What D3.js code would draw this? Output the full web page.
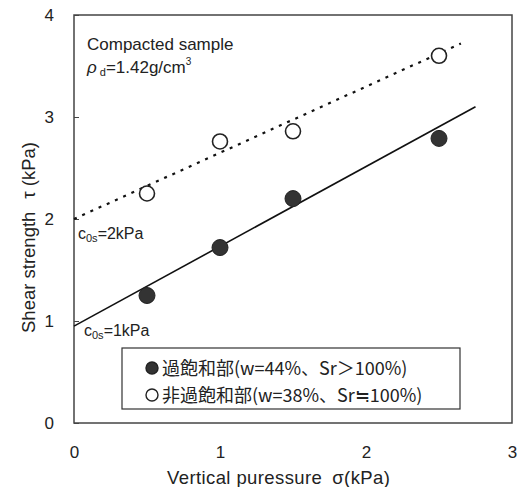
<!DOCTYPE html>
<html>
<head>
<meta charset="utf-8">
<script src="https://cdn.jsdelivr.net/npm/d3@7"></script>
<style>
body { margin: 0; background: #fff; }
text { font-family: "Liberation Sans", Arial, "Noto Sans CJK JP", sans-serif; fill: #222; }
</style>
</head>
<body>
<svg width="529" height="487"></svg>
<script>
// vertical pressure (kPa)
var sigma = [0.5, 1.0, 1.5, 2.5];
// shear strength (kPa)
var tauOver = [1.25, 1.72, 2.2, 2.79];
var tauNonOver = [2.25, 2.76, 2.86, 3.6];
// fitted lines [x, y]
var lineOver = [[0, 0.95], [2.75, 3.1]];
var lineNonOver = [[0, 2.0], [2.65, 3.72]];
var xTicks = [0, 1, 2, 3];
var yTicks = [0, 1, 2, 3, 4];
var legendLabels = ["過飽和部(w=44%、Sr＞100%)", "非過飽和部(w=38%、Sr≒100%)"];

var margins = {top: 15, right: 17, bottom: 64, left: 74};
var screen = {width: 529, height: 487};
var width = screen.width - margins.left - margins.right;
var height = screen.height - margins.top - margins.bottom;

var svg = d3.select("svg");
var g = svg.append("g")
    .attr("transform", "translate(" + margins.left + "," + margins.top + ")");

var xScale = d3.scaleLinear().domain([0, 3]).range([0, width]);
var yScale = d3.scaleLinear().domain([0, 4]).range([height, 0]);

// frame
g.append("rect")
    .attr("width", width).attr("height", height)
    .attr("fill", "none").attr("stroke", "#444").attr("stroke-width", 1.5);

// y axis (ticks inward)
var yAxis = d3.axisLeft(yScale).tickValues(yTicks).tickSize(-5).tickPadding(20)
    .tickFormat(d3.format("d"));
var ya = g.append("g").call(yAxis);
ya.select(".domain").remove();
ya.selectAll("line").attr("stroke", "#444");
ya.selectAll("text").style("font-size", "17px").attr("fill", "#222");

var xAxis = d3.axisBottom(xScale).tickValues(xTicks).tickSize(0).tickPadding(23)
    .tickFormat(d3.format("d"));
var xa = g.append("g").attr("transform", "translate(0," + height + ")").call(xAxis);
xa.select(".domain").remove();
xa.selectAll("text").style("font-size", "17px").attr("fill", "#222");

// fitted lines
var lineGen = d3.line()
    .x(function(d) { return xScale(d[0]); })
    .y(function(d) { return yScale(d[1]); });

g.append("path").datum(lineOver)
    .attr("d", lineGen).attr("fill", "none")
    .attr("stroke", "#111").attr("stroke-width", 1.6);

g.append("path").datum(lineNonOver)
    .attr("d", lineGen).attr("fill", "none")
    .attr("stroke", "#111").attr("stroke-width", 2.2)
    .attr("stroke-dasharray", "3,6");

// points
g.selectAll(".open").data(sigma).enter().append("circle")
    .attr("class", "open")
    .attr("cx", function(d) { return xScale(d); })
    .attr("cy", function(d, i) { return yScale(tauNonOver[i]); })
    .attr("r", 7.5)
    .attr("fill", "#fff").attr("stroke", "#222").attr("stroke-width", 1.6);

g.selectAll(".filled").data(sigma).enter().append("circle")
    .attr("class", "filled")
    .attr("cx", function(d) { return xScale(d); })
    .attr("cy", function(d, i) { return yScale(tauOver[i]); })
    .attr("r", 8)
    .attr("fill", "#333").attr("stroke", "#222").attr("stroke-width", 1);

// annotations
g.append("text").attr("x", 13).attr("y", 35)
    .style("font-size", "17px").text("Compacted sample");

var rho = g.append("text").attr("x", 13).attr("y", 58).style("font-size", "17px");
rho.append("tspan").style("font-style", "italic").text("ρ");
rho.append("tspan").attr("dx", 3).attr("dy", 3).style("font-size", "11px").text("d");
rho.append("tspan").attr("dy", -3).text("=1.42g/cm");
rho.append("tspan").attr("dy", -8).style("font-size", "10px").text("3");

var c2 = g.append("text").attr("x", 4).attr("y", yScale(2) + 20).style("font-size", "16px");
c2.append("tspan").text("c");
c2.append("tspan").attr("dy", 3).style("font-size", "11px").text("0s");
c2.append("tspan").attr("dy", -3).text("=2kPa");

var c1 = g.append("text").attr("x", 10).attr("y", yScale(1) + 15).style("font-size", "16px");
c1.append("tspan").text("c");
c1.append("tspan").attr("dy", 3).style("font-size", "11px").text("0s");
c1.append("tspan").attr("dy", -3).text("=1kPa");

// legend
var legend = g.append("g").attr("transform", "translate(" + 48 + "," + 333 + ")");
legend.append("rect").attr("width", 338).attr("height", 61)
    .attr("fill", "#fff").attr("stroke", "#333").attr("stroke-width", 1.2);
var items = legend.selectAll(".item").data(legendLabels).enter().append("g")
    .attr("transform", function(d, i) { return "translate(0," + (i * 27) + ")"; });
items.append("circle").attr("cx", 30).attr("cy", 20).attr("r", 6)
    .attr("fill", function(d, i) { return i == 0 ? "#333" : "#fff"; })
    .attr("stroke", "#222").attr("stroke-width", 1.4);
items.append("text").attr("x", 40).attr("y", 27)
    .style("font-size", "18px")
    .style("font-family", "'Noto Sans CJK JP', sans-serif")
    .text(function(d) { return d; });

// axis titles
var xt = svg.append("text")
    .attr("x", 167).attr("y", 484)
    .style("font-size", "18.5px").style("letter-spacing", "0.4px");
xt.append("tspan").text("Vertical puressure");
xt.append("tspan").attr("dx", 10).text("σ(kPa)");

var yt = svg.append("text")
    .attr("transform", "translate(35,333) rotate(-90)")
    .style("font-size", "18.5px");
yt.append("tspan").text("Shear strength");
yt.append("tspan").attr("dx", 13).text("τ (kPa)");
</script>
</body>
</html>
